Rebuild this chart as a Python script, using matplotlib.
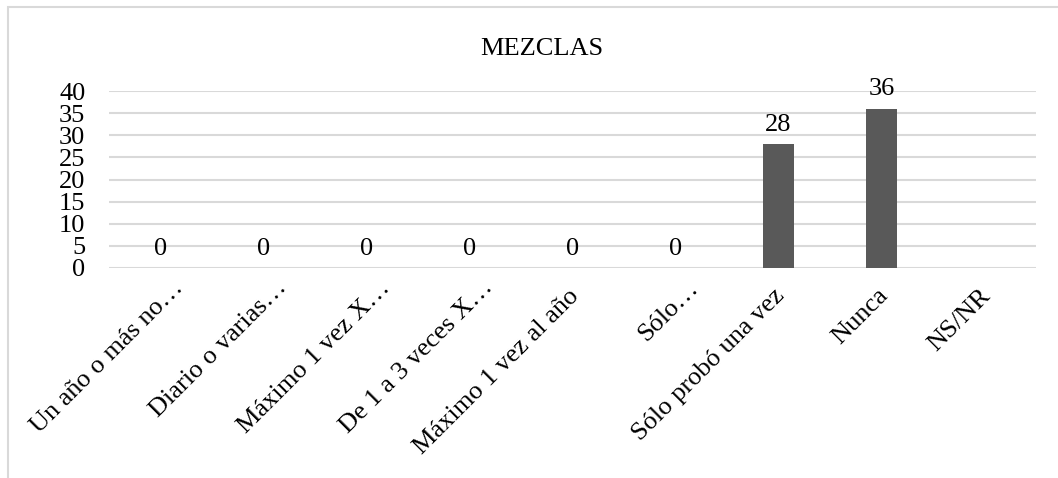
import numpy as np
import matplotlib
matplotlib.use("Agg")
import matplotlib.pyplot as plt
from matplotlib.patches import Rectangle
from matplotlib.transforms import offset_copy

categories = ["Un año o más no…", "Diario o varias…", "Máximo 1 vez X…",
              "De 1 a 3 veces X…", "Máximo 1 vez al año", "Sólo…",
              "Sólo probó una vez", "Nunca", "NS/NR"]
values = [0, 0, 0, 0, 0, 0, 28, 36, np.nan]
title = "MEZCLAS"

plt.rcParams["font.family"] = ["Liberation Serif", "DejaVu Serif"]
W, H = 1058, 478
FS = 19
fig = plt.figure(figsize=(W / 100, H / 100), dpi=100)

# light chart-area border (runs off the right and bottom edges)
fig.patches.append(Rectangle((8 / W, -0.1), 1.2, 1 - 7 / H + 0.1,
                             transform=fig.transFigure, fill=False,
                             edgecolor="#d9d9d9", lw=1.5))

ax = fig.add_axes([109 / W, 1 - 268 / H, (1036 - 109) / W, (268 - 91) / H])
x = np.arange(len(categories))
vals = np.nan_to_num(values)
ax.bar(x, vals, width=0.31, color="#595959", zorder=3)
for xi, v in zip(x, values):
    if np.isnan(v):
        continue
    ax.annotate(f"{v:g}", (xi, v), xytext=(0, 6), textcoords="offset points",
                ha="center", va="bottom", fontsize=FS, zorder=4)

ax.set_xlim(-0.5, len(categories) - 0.5)
ax.set_ylim(0, 40)
ax.set_yticks(range(0, 41, 5))
ax.yaxis.grid(True, color="#d9d9d9", lw=1.5, zorder=0)
ax.set_axisbelow(True)
for s in ax.spines.values():
    s.set_visible(False)
ax.tick_params(axis="both", length=0, labelsize=FS)
ax.tick_params(axis="y", pad=17)
ax.set_xticks(x)
ax.set_xticklabels(categories, rotation=45, ha="right", va="top",
                   rotation_mode="anchor")
ax.tick_params(axis="x", pad=12)
for lab in ax.get_xticklabels():
    dx, dy = (12, 8) if lab.get_text().endswith("…") else (-5, 0)
    lab.set_transform(offset_copy(lab.get_transform(), fig=fig,
                                  x=dx, y=dy, units="dots"))

fig.text(542 / W, 1 - 49 / H, title, ha="center", va="center", fontsize=FS)

fig.savefig("out.png", dpi=100)
